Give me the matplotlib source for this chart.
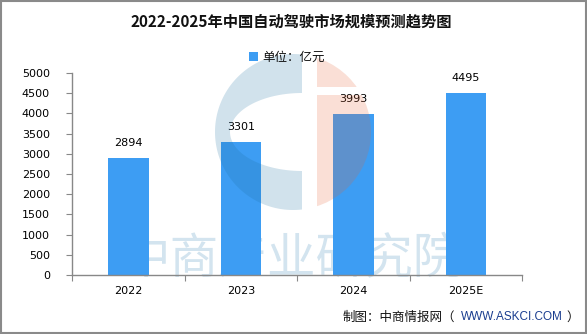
import numpy as np
import matplotlib.pyplot as plt
from matplotlib.patches import Polygon, Circle, Rectangle

plt.rcParams['font.family'] = ['Noto Sans CJK SC', 'DejaVu Sans']

# --Data--
years = ['2022', '2023', '2024', '2025E']
values = [2894, 3301, 3993, 4495]
yticks = list(range(0, 5001, 500))

title = '2022-2025年中国自动驾驶市场规模预测趋势图'
unit_label = '单位：亿元'

bar_color = '#3d9df3'
axis_color = '#888888'

W, H = 587, 334
fig = plt.figure(figsize=(W / 100, H / 100), dpi=100)

# background layer (watermark text)
bg = fig.add_axes([0, 0, 1, 1], zorder=0)
bg.set_xlim(0, W)
bg.set_ylim(H, 0)
bg.axis('off')
bg.text(292, 259, '中商产业研究院', fontsize=35,
        color='#d3e4ef', ha='center', va='center')

# --Main chart--
ax = fig.add_axes([72 / W, 1 - 275 / H, 450 / W, 202 / H], zorder=1)
ax.patch.set_alpha(0)
x = np.arange(len(years))
ax.bar(x, values, width=0.36, color=bar_color, zorder=2)
for xi, v in zip(x, values):
    ax.text(xi, v + 250, str(v), ha='center', va='bottom', fontsize=8,
            color='black', family='DejaVu Sans')

ax.set_xlim(-0.5, len(years) - 0.5)
ax.set_ylim(0, 5000)
ax.set_yticks(yticks)
ax.set_yticklabels([str(t) for t in yticks], fontsize=8, family='DejaVu Sans')
ax.set_xticks(np.arange(-0.5, len(years)))
ax.set_xticklabels([''] * (len(years) + 1))
ax.set_xticks(x, minor=True)
ax.set_xticklabels(years, minor=True, fontsize=8, family='DejaVu Sans')
ax.tick_params(axis='x', which='minor', length=0, pad=8)
ax.tick_params(axis='x', which='major', length=4, color=axis_color, direction='out')
ax.tick_params(axis='y', length=4, color=axis_color, pad=12)
for s in ['top', 'right']:
    ax.spines[s].set_visible(False)
for s in ['left', 'bottom']:
    ax.spines[s].set_color(axis_color)
    ax.spines[s].set_linewidth(1)

# --Overlay: logo watermark, titles, border--
ov = fig.add_axes([0, 0, 1, 1], zorder=3)
ov.set_xlim(0, W)
ov.set_ylim(H, 0)
ov.axis('off')

cx, cy, r = 293, 132, 78
gap_l = 302
ea, eb = 72, 39
y_top = cy - np.sqrt(r ** 2 - (gap_l - cx) ** 2)
a0 = np.arctan2(y_top - cy, gap_l - cx)
a1 = -a0
outer_t = np.linspace(a0, a0 - (2 * np.pi - (a1 - a0)), 120)
outer = np.column_stack([cx + r * np.cos(outer_t), cy + r * np.sin(outer_t)])
inner_t = np.linspace(np.pi / 2, 3 * np.pi / 2, 80)
inner = np.column_stack([gap_l + ea * np.cos(inner_t), cy + eb * np.sin(inner_t)])
ov.add_patch(Polygon(np.vstack([outer, inner]), closed=True, facecolor='#1a6fa0',
                     alpha=0.2, edgecolor='none'))

for y0, y1 in [(0, 87), (95, 300)]:
    c = Circle((cx, cy), r, facecolor=(0.9, 0.39, 0.2), alpha=0.2, edgecolor='none')
    ov.add_patch(c)
    c.set_clip_path(Rectangle((317, y0), 200, y1 - y0, transform=ov.transData))

ov.text(W / 2 - 2, 22, title, ha='center', va='center', fontsize=11,
        fontweight='bold', color='#111111')
ov.add_patch(Rectangle((249, 52), 9, 9, facecolor=bar_color, edgecolor='none'))
ov.text(262, 57, unit_label, ha='left', va='center', fontsize=9, color='#111111')

ov.text(343, 317, '制图：中商情报网（', ha='left', va='center', fontsize=9,
        color='#111111')
ov.text(461, 317, 'WWW.ASKCI.COM', ha='left', va='center', fontsize=8.5,
        color='#1a3d8f', family='Liberation Sans')
ov.text(566, 317, '）', ha='left', va='center', fontsize=9, color='#111111')

ov.add_patch(Rectangle((0.5, 0.5), W - 1.5, H - 1.5, fill=False,
                       edgecolor='#8a8a8a', linewidth=1.5))

fig.savefig('out.png', dpi=100)
